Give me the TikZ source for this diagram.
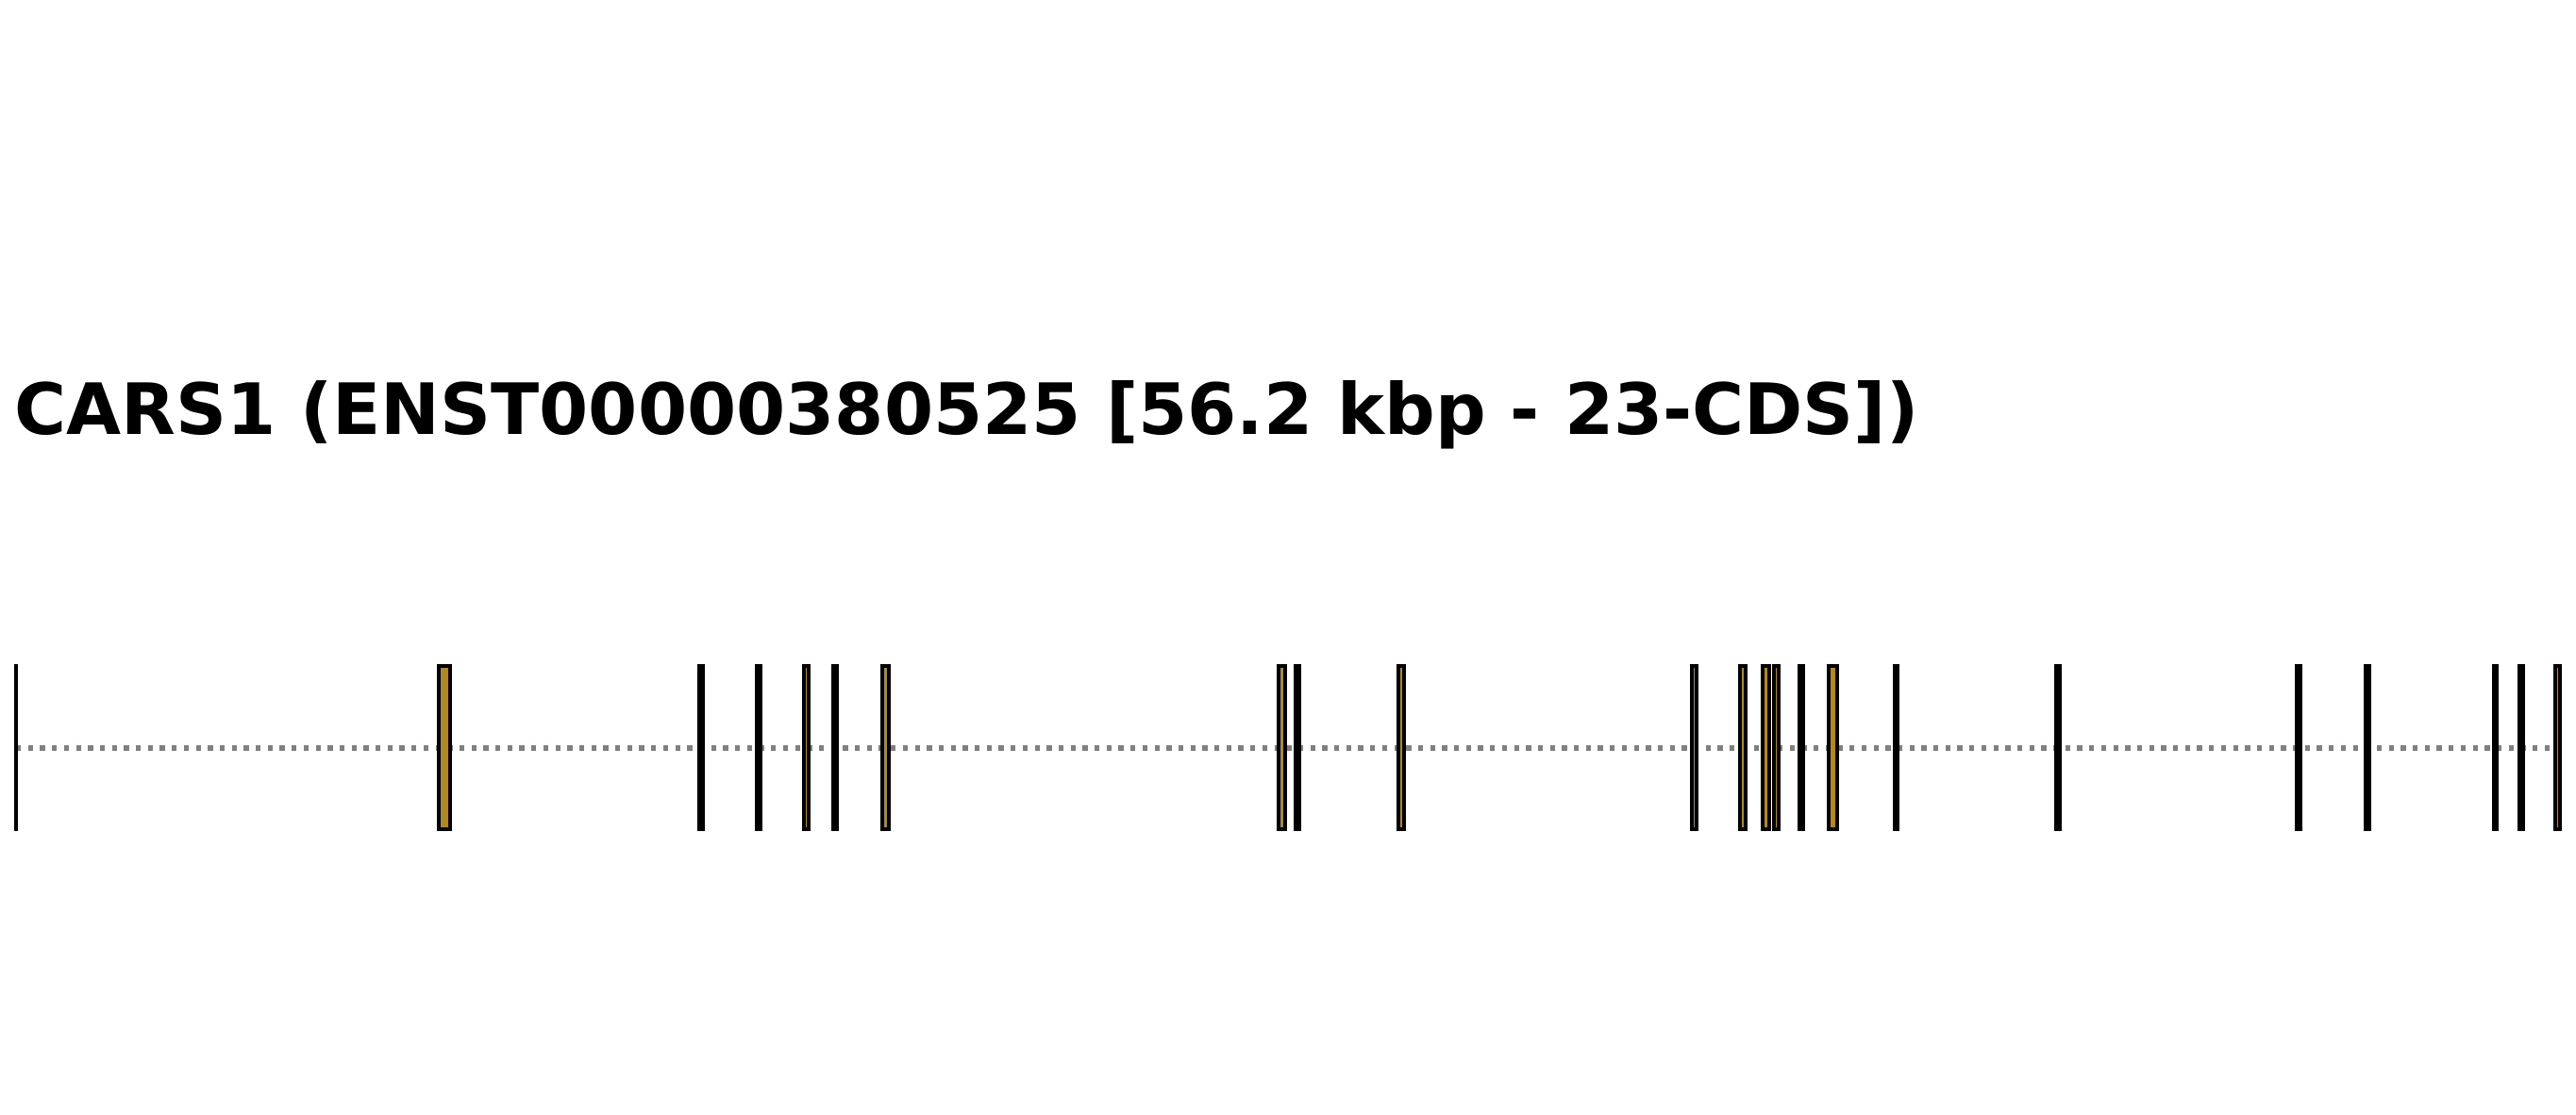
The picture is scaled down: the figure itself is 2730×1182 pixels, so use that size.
\documentclass[tikz,border=0pt]{standalone}
\usepackage{fontspec}
\newfontfamily\titlefont{DejaVu Sans}
\definecolor{exongold}{RGB}{176,137,32}
\definecolor{intron}{RGB}{128,128,128}
\tikzset{
  exon/.style={fill=exongold, draw=black, line width=4.3pt},
  intronline/.style={draw=intron, line width=6pt, dash pattern=on 5.3pt off 7.4pt},
  titlelabel/.style={anchor=base west, inner sep=0pt, font=\titlefont\bfseries\fontsize{75}{90}\selectfont}
}
\newcommand{\exonbar}[2]{\draw[exon] ({#1+2.15},706.15) rectangle ({#2-2.15},878.85);}
\begin{document}
\begin{tikzpicture}[x=1pt,y=-1pt]
\useasboundingbox (0,0) rectangle (2730,1182);
\fill[white] (0,0) rectangle (2730,1182);
\node[titlelabel] (title) at (15,460) {CARS1 (ENST00000380525 [56.2 kbp - 23-CDS])};
\coordinate (gstart) at (17,793);
\coordinate (gend) at (2705,793);
\draw[intronline] (gstart) -- (gend);
\fill[black] (15,704) rectangle (19,881);
\exonbar{462.7}{479}
\exonbar{739}{747}
\exonbar{800}{808.3}
\exonbar{850}{859}
\exonbar{881}{889.3}
\exonbar{933}{944}
\exonbar{1352.7}{1364}
\exonbar{1371}{1379}
\exonbar{1480}{1490}
\exonbar{1791}{1800}
\exonbar{1842}{1852}
\exonbar{1866}{1877}
\exonbar{1878}{1887}
\exonbar{1905}{1913}
\exonbar{1936}{1949}
\exonbar{2006}{2013}
\exonbar{2177}{2185}
\exonbar{2432}{2440}
\exonbar{2505}{2513}
\exonbar{2641}{2648}
\exonbar{2668}{2676}
\exonbar{2706}{2715}
\end{tikzpicture}
\end{document}
